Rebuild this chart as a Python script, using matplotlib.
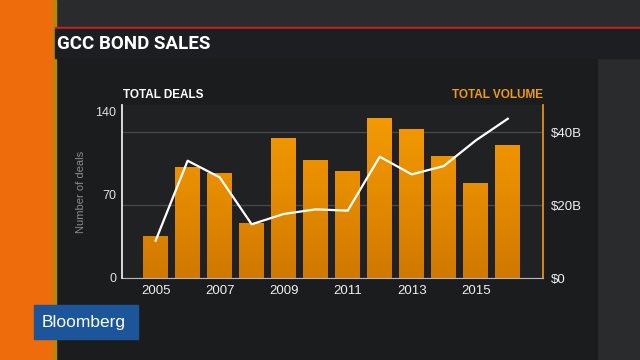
import numpy as np
import matplotlib.pyplot as plt
from matplotlib.patches import Rectangle
from matplotlib.colors import LinearSegmentedColormap

years = [2005, 2006, 2007, 2008, 2009, 2010, 2011, 2012, 2013, 2014, 2015, 2016]
volume = [11.5, 30.3, 28.5, 14.8, 38.3, 32.1, 29.2, 43.8, 40.7, 33.4, 25.8, 36.2]  # $B
deals = [31.5, 98.9, 84.9, 45.3, 54, 57.9, 56.8, 102.3, 87.4, 94.4, 116, 134.3]
year_ticks = [2005, 2007, 2009, 2011, 2013, 2015]

plt.rcParams['font.family'] = ['Liberation Sans', 'DejaVu Sans']

fig = plt.figure(figsize=(6.4, 3.6), dpi=100)
fig.patch.set_facecolor('#262728')

W, H = 640, 360
def box(x0, y0, x1, y1, color, z=0):
    fig.patches.append(Rectangle((x0 / W, 1 - y1 / H), (x1 - x0) / W, (y1 - y0) / H,
                                 transform=fig.transFigure, color=color, zorder=z))

# background pieces
box(55, 0, 640, 360, '#2a2b2d')
box(55, 58, 597, 360, '#1b1c1e')
box(0, 0, 53, 360, '#ef6c0c')
box(53, 0, 56, 360, '#b8860b')
box(55, 27, 640, 29.5, '#c8201e')
box(55, 29.5, 640, 58, '#1d1e21')
box(34, 305, 138, 339, '#1c5599', z=3)

fig.text(57 / W, 1 - 44 / H, 'GCC BOND SALES', color='white', fontsize=13.5,
         fontweight='bold', va='center', ha='left',
         family=['Roboto', 'Liberation Sans', 'DejaVu Sans'])
fig.text(42 / W, 1 - 322 / H, 'Bloomberg', color='white', fontsize=12.5,
         va='center', ha='left', zorder=4)

ax2 = fig.add_axes([122 / W, 1 - 278 / H, (543 - 122) / W, (278 - 105) / H])
ax = ax2.twinx()
ax.yaxis.tick_left()
ax.yaxis.set_label_position('left')
ax2.yaxis.tick_right()
ax2.set_zorder(5)
ax.set_zorder(6)
ax.patch.set_visible(False)
ax2.set_facecolor('#202123')

ymax2 = 47.4
cmap = LinearSegmentedColormap.from_list('bar', ['#d07800', '#e68c00', '#f59c05'])
bars = ax2.bar(years, volume, width=0.78, color='#ee9205')
for b in bars:
    x0, w, h = b.get_x(), b.get_width(), b.get_height()
    grad = np.linspace(h, 0, 100).reshape(-1, 1)
    ax2.imshow(grad, extent=[x0, x0 + w, 0, h], aspect='auto', cmap=cmap,
               vmin=0, vmax=ymax2, zorder=2)
    b.set_visible(False)
ax2.set_ylim(0, ymax2)
ax2.set_yticks([0, 20, 40])
ax2.set_yticklabels(['$0', '$20B', '$40B'])
ax2.grid(axis='y', color='#48494b', lw=0.9)
ax2.set_axisbelow(True)

ax.plot(years, deals, color='white', lw=1.6)
ax.set_ylim(0, 145.9)
ax.set_yticks([0, 70, 140])
ax.set_xlim(2003.95, 2017.1)
ax2.set_xlim(2003.95, 2017.1)
ax2.set_xticks(year_ticks)
ax2.set_xticklabels([str(y) for y in year_ticks])
ax.set_ylabel('Number of deals', color='#8a8a8a', fontsize=8, labelpad=7)

for a in (ax, ax2):
    for s in a.spines.values():
        s.set_visible(False)
    a.tick_params(length=0)
ax.spines['left'].set_visible(True)
ax.spines['left'].set_color('#e8e8e8')
ax.spines['left'].set_linewidth(1.3)
ax2.spines['right'].set_visible(True)
ax2.spines['right'].set_color('#e8900c')
ax2.spines['right'].set_linewidth(1.3)
ax2.spines['bottom'].set_visible(True)
ax2.spines['bottom'].set_color('#b8b8b8')
ax.tick_params(axis='y', colors='#e0e0e0', labelsize=9, pad=4)
ax2.tick_params(axis='y', colors='#f0f0f0', labelsize=9.5, pad=6)
ax2.tick_params(axis='x', colors='#f0f0f0', labelsize=9.5, pad=5)

fig.text(123 / W, 1 - 95 / H, 'TOTAL DEALS', color='white', fontsize=8.5,
         fontweight='bold', va='center', ha='left')
fig.text(543 / W, 1 - 95 / H, 'TOTAL VOLUME', color='#ee9a1a', fontsize=8.5,
         fontweight='bold', va='center', ha='right')

fig.savefig('out.png', dpi=100, facecolor=fig.get_facecolor())
